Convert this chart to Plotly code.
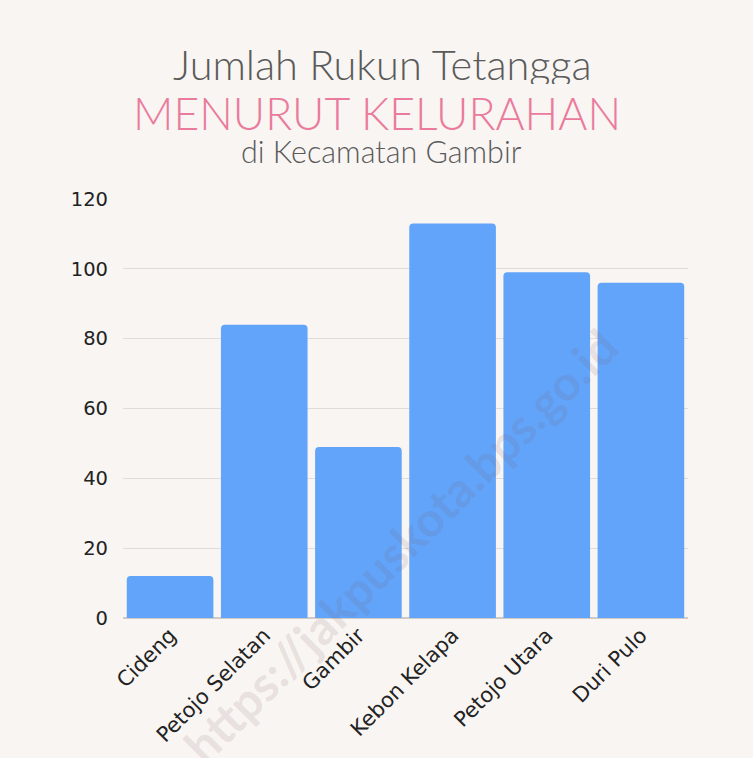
import plotly.graph_objects as go

categories = ["Cideng", "Petojo Selatan", "Gambir", "Kebon Kelapa", "Petojo Utara", "Duri Pulo"]
values = [12, 84, 49, 113, 99, 96]
y_ticks = [0, 20, 40, 60, 80, 100, 120]

W, H = 753, 758
L, R, T, B = 123, 65, 199, 140
BG = "#f8f5f2"

fig = go.Figure(go.Bar(
    x=categories, y=values,
    marker=dict(color="#62a4fa", line=dict(width=0)),
    hoverinfo="x+y",
))

def px_x(px):
    return (px - L) / (W - L - R)

def px_y(py):
    return (H - B - py) / (H - T - B)

fig.update_layout(
    width=W, height=H,
    margin=dict(l=L, r=R, t=T, b=B),
    paper_bgcolor=BG, plot_bgcolor=BG,
    bargap=0.08,
    barcornerradius=4,
    showlegend=False,
    font=dict(family="Lato, sans-serif", color="#222222"),
    xaxis=dict(
        tickangle=-45,
        tickfont=dict(size=21, family="DejaVu Sans, sans-serif", color="#222222"),
        showgrid=False, showline=False, ticks="", zeroline=False,
    ),
    yaxis=dict(
        range=[0, 120], tickvals=y_ticks,
        tickfont=dict(size=19.5, family="DejaVu Sans, sans-serif", color="#222222"),
        showgrid=True, gridcolor="#e0dcd8", gridwidth=1,
        zeroline=True, zerolinecolor="#cfcac5", zerolinewidth=1.5,
        showline=False, ticks="", ticklabelstandoff=14,
    ),
    annotations=[
        dict(text="Jumlah Rukun Tetangga", xref="paper", yref="paper",
             x=px_x(382), y=px_y(64), showarrow=False, xanchor="center", yanchor="middle",
             height=40, valign="middle",
             font=dict(size=41.5, color="#5a5a5a", family="Lato, sans-serif", weight=300)),
        dict(text="MENURUT KELURAHAN", xref="paper", yref="paper",
             x=px_x(377), y=px_y(112), showarrow=False, xanchor="center", yanchor="middle",
             height=36, valign="middle",
             font=dict(size=44.5, color="#ea7b9c", family="Lato, sans-serif", weight=300)),
        dict(text="di Kecamatan Gambir", xref="paper", yref="paper",
             x=px_x(381), y=px_y(151), showarrow=False, xanchor="center", yanchor="middle",
             height=28, valign="middle",
             font=dict(size=30.5, color="#5a5a5a", family="Lato, sans-serif", weight=300)),
        dict(text="https://jakpuskota.bps.go.id", xref="paper", yref="paper",
             x=px_x(400), y=px_y(545), showarrow=False, xanchor="center", yanchor="middle",
             textangle=-45,
             font=dict(size=48, color="rgba(120,88,92,0.15)", family="Lato, sans-serif", weight=700)),
    ],
)

fig.write_html(
    "out.html",
    config={"displayModeBar": False},
    post_script="document.body.style.margin='0';document.body.style.background='%s';" % BG,
)
